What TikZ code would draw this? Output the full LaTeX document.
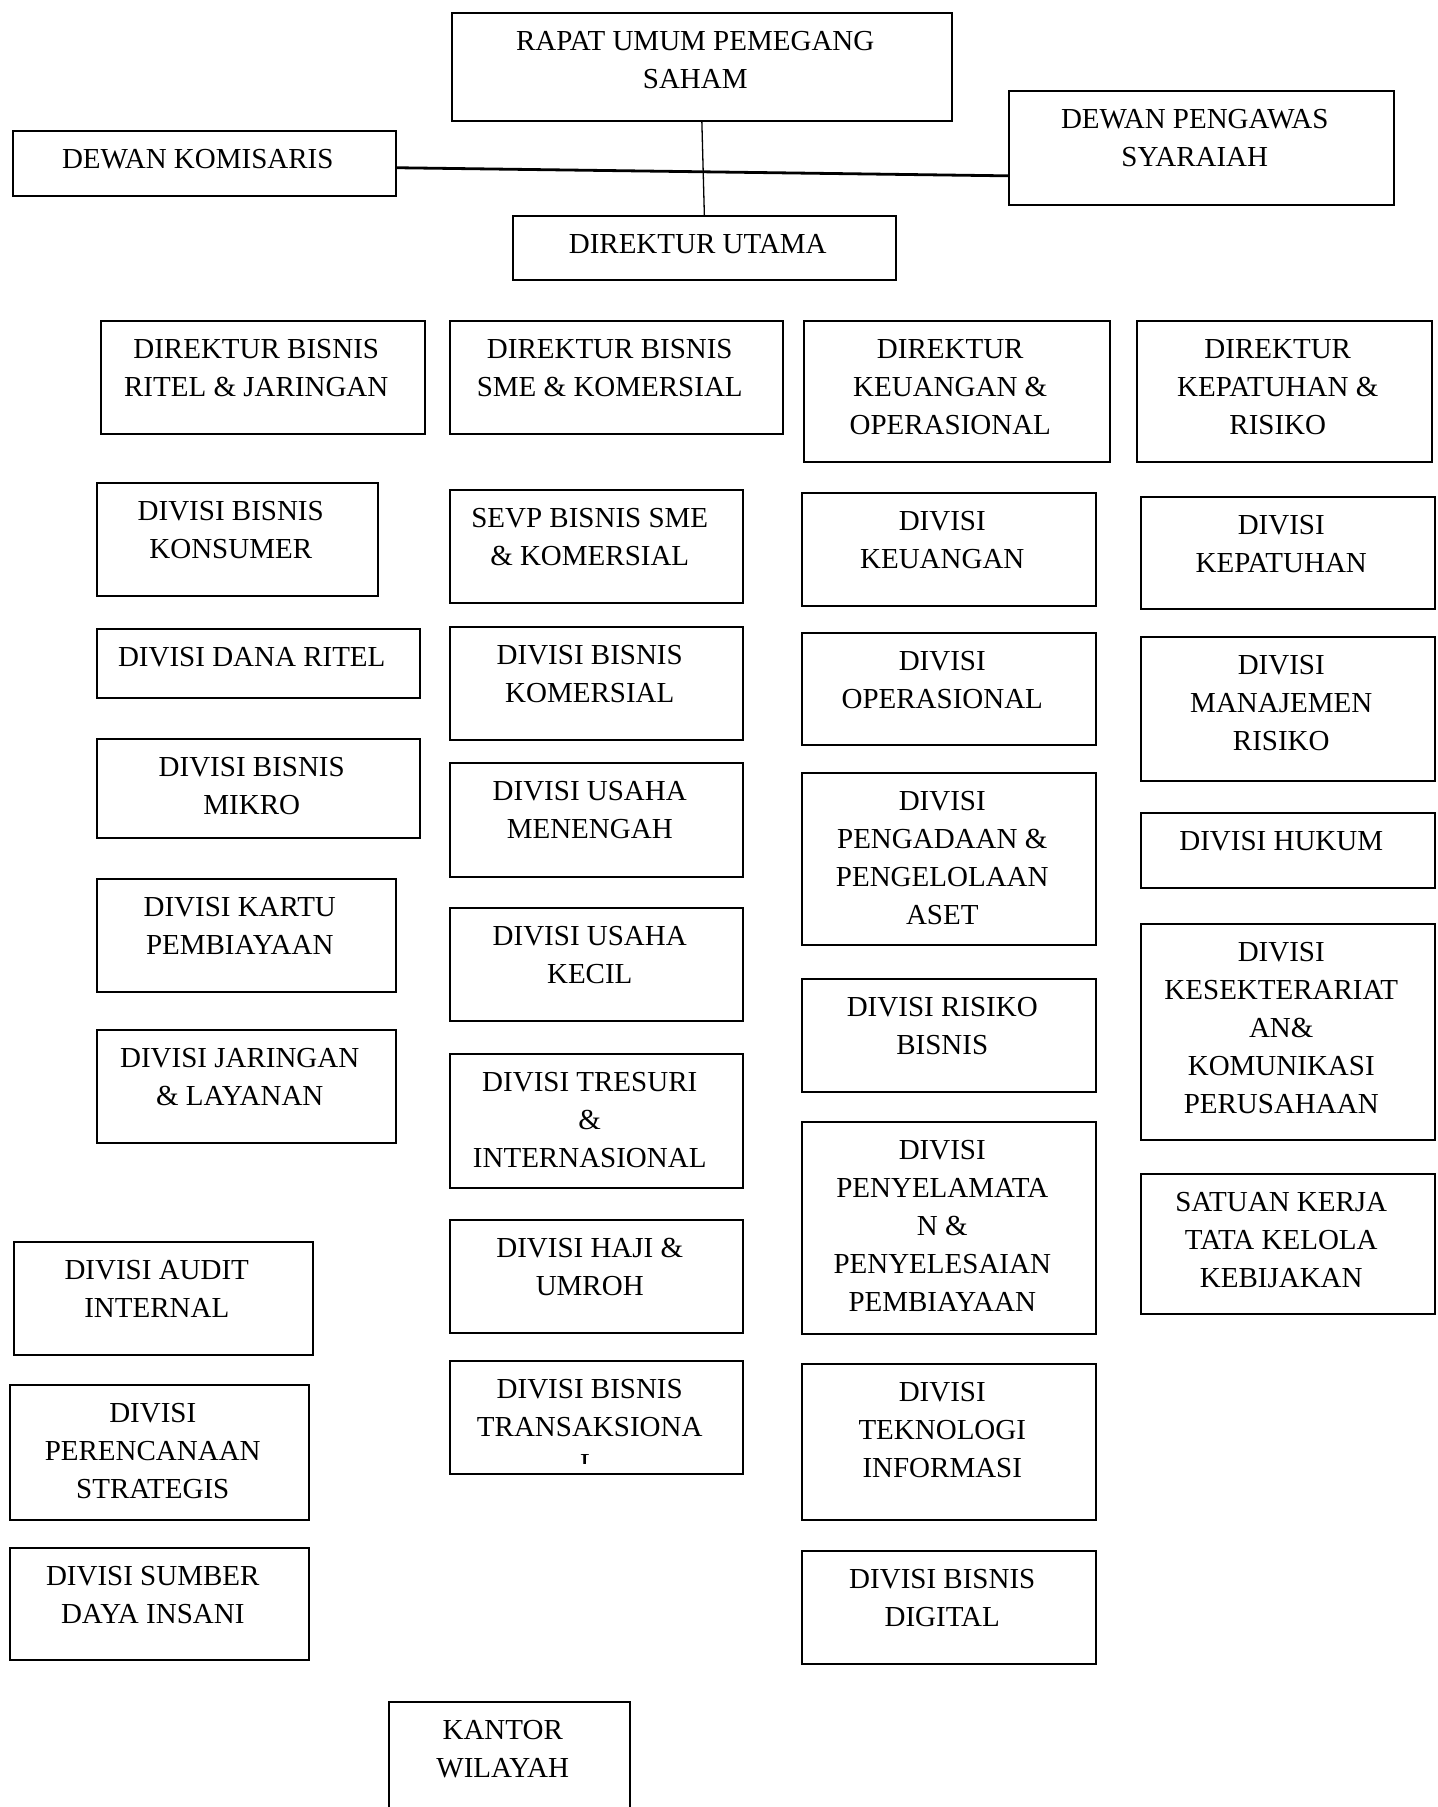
\documentclass[tikz,border=0pt]{standalone}
\usepackage{fontspec}
\setmainfont{Liberation Serif}
\usepackage{tikz}
\usetikzlibrary{positioning}
\tikzset{
  orgbox/.style={draw=black,line width=0.85pt,inner sep=0pt,anchor=north west,
    text height=18.8pt,font=\fontsize{14.5}{19}\selectfont},
  orgtext/.style={inner sep=0pt,font=\fontsize{14.5}{19}\selectfont},
  mainlink/.style={line width=0.65pt,draw=black},
  sidelink/.style={line width=1.4pt,draw=black}
}
% box from top-left (x1,y1) to bottom-right (x2,y2), text set at the top
\newcommand{\orgbox}[6]{%
  \pgfmathsetmacro{\boxw}{0.5*(#4-#2)-6.6}%
  \pgfmathsetmacro{\boxd}{0.5*(#5-#3)-18.8}%
  \node[orgbox,text depth=\boxd pt] (#1) at (#2,#3) {\parbox[t]{\boxw pt}{\centering #6}\hspace*{6.6pt}};%
}

\begin{document}
\begin{tikzpicture}[x=0.5pt,y=-0.5pt]
\path[fill=white] (0,0) rectangle (1437,1807);
\useasboundingbox (0,0) rectangle (1437,1807);

\orgbox{rups}{451}{12}{951}{120}{RAPAT UMUM PEMEGANG\\SAHAM}
\orgbox{dekom}{12}{130}{395}{195}{DEWAN KOMISARIS}
\orgbox{dps}{1008}{90}{1393}{204}{DEWAN PENGAWAS\\SYARAIAH}
\orgbox{dirut}{512}{215}{895}{279}{DIREKTUR UTAMA}
\draw[mainlink] (rups.south) -- (dirut.north);
\draw[sidelink] ([yshift=-2.2pt]dekom.east) -- ([yshift=-14pt]dps.west);

\orgbox{dirritel}{100}{320}{424}{433}{DIREKTUR BISNIS\\RITEL \& JARINGAN}
\orgbox{dirsme}{449}{320}{782}{433}{DIREKTUR BISNIS\\SME \& KOMERSIAL}
\orgbox{dirkeu}{803}{320}{1109}{461}{DIREKTUR\\KEUANGAN \&\\OPERASIONAL}
\orgbox{dirkep}{1136}{320}{1431}{461}{DIREKTUR\\KEPATUHAN \&\\RISIKO}

\orgbox{konsumer}{96}{482}{377}{595}{DIVISI BISNIS\\KONSUMER}
\orgbox{danaritel}{96}{628}{419}{697}{DIVISI DANA RITEL}
\orgbox{mikro}{96}{738}{419}{837}{DIVISI BISNIS\\MIKRO}
\orgbox{kartu}{96}{878}{395}{991}{DIVISI KARTU\\PEMBIAYAAN}
\orgbox{jaringan}{96}{1029}{395}{1142}{DIVISI JARINGAN\\\& LAYANAN}
\orgbox{audit}{13}{1241}{312}{1354}{DIVISI AUDIT\\INTERNAL}
\orgbox{strategis}{9}{1384}{308}{1519}{DIVISI\\PERENCANAAN\\STRATEGIS}
\orgbox{sdi}{9}{1547}{308}{1659}{DIVISI SUMBER\\DAYA INSANI}
\orgbox{kanwil}{388}{1701}{629}{1830}{KANTOR\\WILAYAH}

\orgbox{sevp}{449}{489}{742}{602}{SEVP BISNIS SME\\\& KOMERSIAL}
\orgbox{komersial}{449}{626}{742}{739}{DIVISI BISNIS\\KOMERSIAL}
\orgbox{menengah}{449}{762}{742}{876}{DIVISI USAHA\\MENENGAH}
\orgbox{kecil}{449}{907}{742}{1020}{DIVISI USAHA\\KECIL}
\orgbox{tresuri}{449}{1053}{742}{1187}{DIVISI TRESURI\\\&\\INTERNASIONAL}
\orgbox{haji}{449}{1219}{742}{1332}{DIVISI HAJI \&\\UMROH}
\orgbox{transaksional}{449}{1360}{742}{1473}{DIVISI BISNIS\\TRANSAKSIONA}
\begin{scope}
\clip (transaksional.north west) rectangle ([yshift=5.5pt]transaksional.south east);
\node[orgtext,anchor=base] (transaksional-l) at (589,1473.6) {L};
\end{scope}

\orgbox{keuangan}{801}{492}{1095}{605}{DIVISI\\KEUANGAN}
\orgbox{operasional}{801}{632}{1095}{744}{DIVISI\\OPERASIONAL}
\orgbox{aset}{801}{772}{1095}{944}{DIVISI\\PENGADAAN \&\\PENGELOLAAN\\ASET}
\orgbox{risikobisnis}{801}{978}{1095}{1091}{DIVISI RISIKO\\BISNIS}
\orgbox{penyelamatan}{801}{1121}{1095}{1333}{DIVISI\\PENYELAMATA\\N \&\\PENYELESAIAN\\PEMBIAYAAN}
\orgbox{ti}{801}{1363}{1095}{1519}{DIVISI\\TEKNOLOGI\\INFORMASI}
\orgbox{digital}{801}{1550}{1095}{1663}{DIVISI BISNIS\\DIGITAL}

\orgbox{kepatuhan}{1140}{496}{1434}{608}{DIVISI\\KEPATUHAN}
\orgbox{mr}{1140}{636}{1434}{780}{DIVISI\\MANAJEMEN\\RISIKO}
\orgbox{hukum}{1140}{812}{1434}{887}{DIVISI HUKUM}
\orgbox{kesek}{1140}{923}{1434}{1139}{DIVISI\\KESEKTERARIAT\\AN\&\\KOMUNIKASI\\PERUSAHAAN}
\orgbox{sktk}{1140}{1173}{1434}{1313}{SATUAN KERJA\\TATA KELOLA\\KEBIJAKAN}
\end{tikzpicture}
\end{document}
